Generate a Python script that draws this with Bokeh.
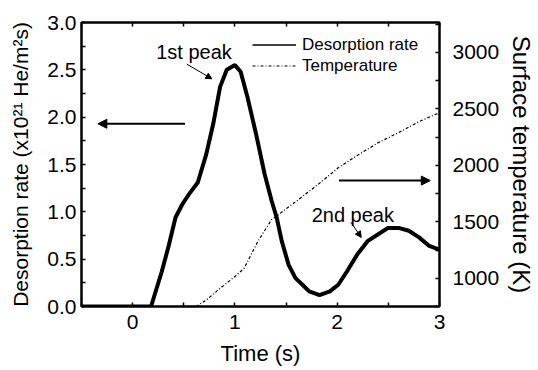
from bokeh.plotting import figure
from bokeh.models import (LinearAxis, Range1d, FixedTicker, PrintfTickFormatter,
                          Arrow, NormalHead, Label, Legend, LegendItem)
from bokeh.embed import file_html
from bokeh.resources import INLINE

# ---- data ----
time_rate = [-0.5, 0.0, 0.18, 0.285, 0.352, 0.419, 0.486, 0.553, 0.637, 0.72,
             0.788, 0.855, 0.92, 1.0, 1.056, 1.123, 1.207, 1.29, 1.358, 1.408,
             1.458, 1.525, 1.592, 1.66, 1.726, 1.827, 1.928, 2.01, 2.095, 2.196,
             2.296, 2.397, 2.497, 2.6, 2.7, 2.8, 2.9, 3.0]
rate = [0.0, 0.0, 0.0, 0.37, 0.64, 0.94, 1.08, 1.19, 1.31, 1.61,
        1.93, 2.32, 2.50, 2.55, 2.48, 2.21, 1.82, 1.40, 1.12, 0.94,
        0.69, 0.44, 0.30, 0.23, 0.16, 0.12, 0.16, 0.23, 0.37, 0.55,
        0.69, 0.76, 0.83, 0.83, 0.80, 0.73, 0.64, 0.60]

time_temp = [0.62, 0.72, 0.855, 1.0, 1.09, 1.224, 1.358, 1.425, 1.59, 1.726,
             1.86, 2.01, 2.2, 2.4, 2.6, 2.8, 3.0]
temp = [750, 807, 911, 1015, 1089, 1326, 1519, 1563, 1676, 1770,
        1865, 1978, 2090, 2200, 2290, 2387, 2467]

x_major = [0, 1, 2, 3]
x_minor = [-0.5, 0.5, 1.5, 2.5]
y_major = [0.0, 0.5, 1.0, 1.5, 2.0, 2.5, 3.0]
y_minor = [0.25, 0.75, 1.25, 1.75, 2.25, 2.75]
t_major = [1000, 1500, 2000, 2500, 3000]
t_minor = [750, 1250, 1750, 2250, 2750, 3250]

FONT = "Liberation Sans"

p = figure(width=538, height=370, x_range=Range1d(-0.5, 3), y_range=Range1d(0, 3),
           output_backend="svg", toolbar_location=None,
           x_axis_location=None, y_axis_location=None)
p.extra_y_ranges = {"temp": Range1d(750, 3265)}
p.min_border_left = 81
p.min_border_right = 99
p.min_border_top = 22
p.min_border_bottom = 64
p.xgrid.visible = False
p.ygrid.visible = False
p.outline_line_color = "black"
p.outline_line_width = 2
p.background_fill_color = "white"
p.border_fill_color = "white"

bottom_axis = LinearAxis(axis_label="Time (s)")
left_axis = LinearAxis(axis_label="Desorption rate (x10\u00b2\u00b9 He/m\u00b2s)")
right_axis = LinearAxis(y_range_name="temp", axis_label="Surface temperature (K)")
top_axis = LinearAxis()
p.add_layout(bottom_axis, "below")
p.add_layout(left_axis, "left")
p.add_layout(right_axis, "right")
p.add_layout(top_axis, "above")


def style(ax):
    ax.axis_line_width = 2
    ax.axis_line_color = "black"
    ax.major_tick_in = 4
    ax.major_tick_out = 0
    ax.minor_tick_in = 4
    ax.minor_tick_out = 0
    ax.major_tick_line_width = 1.5
    ax.minor_tick_line_width = 1.5
    ax.major_label_text_font = FONT
    ax.major_label_text_font_size = "21px"
    ax.major_label_text_color = "black"
    ax.axis_label_text_font = FONT
    ax.axis_label_text_font_style = "normal"
    ax.axis_label_text_color = "black"


for ax in [bottom_axis, left_axis, right_axis, top_axis]:
    style(ax)

for ax in [bottom_axis, top_axis]:
    ax.ticker = FixedTicker(ticks=x_major, minor_ticks=x_minor)
top_axis.major_label_overrides = {0: "", 1: "", 2: "", 3: ""}
top_axis.major_label_text_font_size = "1px"
top_axis.major_label_standoff = 0

bottom_axis.axis_label_text_font_size = "22px"
bottom_axis.major_label_standoff = 8
bottom_axis.axis_label_standoff = 9

left_axis.ticker = FixedTicker(ticks=y_major, minor_ticks=y_minor)
left_axis.formatter = PrintfTickFormatter(format="%.1f")
left_axis.axis_label_text_font_size = "21px"
left_axis.major_label_standoff = 5
left_axis.axis_label_standoff = 12

right_axis.ticker = FixedTicker(ticks=t_major, minor_ticks=t_minor)
right_axis.axis_label_text_font_size = "24px"
right_axis.major_label_standoff = 13
right_axis.axis_label_standoff = 6

# ---- curves ----
thick = p.line(time_rate, rate, line_color="black", line_width=4)
thin = p.line(time_rate, rate, line_color="black", line_width=1.5)
temp_r = p.line(time_temp, temp, y_range_name="temp", line_color="black",
                line_width=1.2, line_dash="3 2 1 2")

legend = Legend(items=[LegendItem(label="Desorption rate", renderers=[thin]),
                       LegendItem(label="Temperature", renderers=[temp_r])],
                location=(171, 230))
legend.label_text_font = FONT
legend.label_text_font_size = "17px"
legend.label_text_color = "black"
legend.glyph_width = 44
legend.glyph_height = 21
legend.label_height = 21
legend.spacing = 0
legend.padding = 0
legend.margin = 0
legend.label_standoff = 6
legend.border_line_alpha = 0
legend.background_fill_alpha = 0
p.add_layout(legend)

# ---- annotations ----
p.add_layout(Arrow(end=NormalHead(size=9, fill_color="black", line_color="black"),
                   x_start=0.512, y_start=1.93, x_end=-0.34, y_end=1.93,
                   line_width=2, line_color="black"))
p.add_layout(Arrow(end=NormalHead(size=9, fill_color="black", line_color="black"),
                   x_start=2.017, y_start=1.33, x_end=2.91, y_end=1.33,
                   line_width=2, line_color="black"))
p.add_layout(Arrow(end=NormalHead(size=6, fill_color="black", line_color="black"),
                   x_start=0.53, y_start=2.56, x_end=0.775, y_end=2.405,
                   line_width=1, line_color="black"))
p.add_layout(Arrow(end=NormalHead(size=6, fill_color="black", line_color="black"),
                   x_start=2.134, y_start=0.89, x_end=2.235, y_end=0.73,
                   line_width=1, line_color="black"))

p.add_layout(Label(x=0.23, y=2.69, text="1st peak", text_font=FONT,
                   text_font_size="20px", text_color="black",
                   text_baseline="alphabetic"))
p.add_layout(Label(x=1.75, y=0.97, text="2nd peak", text_font=FONT,
                   text_font_size="20px", text_color="black",
                   text_baseline="alphabetic"))

open("out.html", "w").write(file_html(p, INLINE))
